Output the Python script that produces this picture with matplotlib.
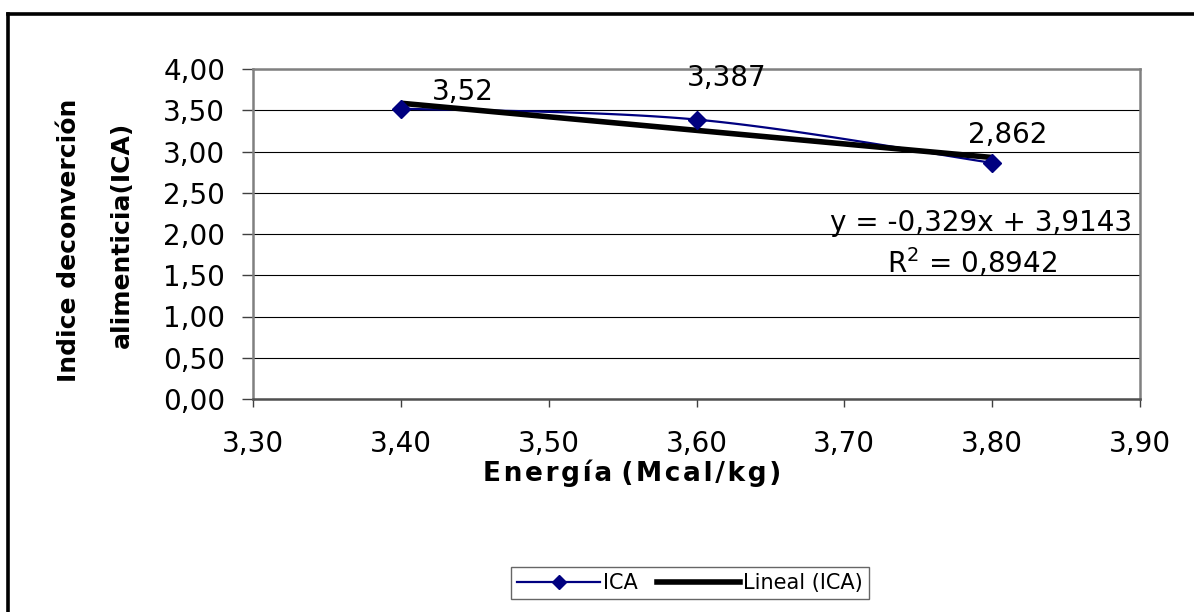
import numpy as np
import matplotlib
matplotlib.use("Agg")
import matplotlib.pyplot as plt
from matplotlib.lines import Line2D
from matplotlib.ticker import FuncFormatter

energia = [3.40, 3.60, 3.80]
ica = [3.52, 3.387, 2.862]
ica_labels = ["3,52", "3,387", "2,862"]
x_ticks = [3.30, 3.40, 3.50, 3.60, 3.70, 3.80, 3.90]
y_ticks = [0.0, 0.5, 1.0, 1.5, 2.0, 2.5, 3.0, 3.5, 4.0]
eq_text = "y = -0,329x + 3,9143"
r2_text = "R$^2$ = 0,8942"

plt.rcParams['font.family'] = ['DejaVu Sans']
plt.rcParams['mathtext.fontset'] = 'dejavusans'

fig = plt.figure(figsize=(11.94, 6.12), dpi=100)
ax = fig.add_axes([253/1194, 1-399/612, (1140-253)/1194, (399-69)/612])

# Excel-style smoothed line (Bezier through points)
def smooth(xs, ys, n=60):
    P = np.column_stack([xs, ys]).astype(float)
    out = []
    m = len(P)
    for i in range(m - 1):
        p0 = P[i - 1] if i > 0 else P[i]
        p1 = P[i]
        p2 = P[i + 1]
        p3 = P[i + 2] if i + 2 < m else P[i + 1]
        c1 = p1 + (p2 - p0) / 6
        c2 = p2 - (p3 - p1) / 6
        t = np.linspace(0, 1, n)[:, None]
        seg = (1-t)**3*p1 + 3*(1-t)**2*t*c1 + 3*(1-t)*t**2*c2 + t**3*p2
        out.append(seg if i == 0 else seg[1:])
    s = np.vstack(out)
    return s[:, 0], s[:, 1]

sx, sy = smooth(energia, ica)
ax.plot(sx, sy, color='#000080', lw=1.6, zorder=3)
ax.plot(energia, ica, linestyle='none', marker='D', ms=9, color='#000080', zorder=4)

# linear trend (Excel computed on index 1..n)
idx = np.arange(1, len(ica) + 1)
slope, intercept = np.polyfit(idx, ica, 1)
trend = slope * idx + intercept
ax.plot(energia, trend, color='black', lw=4.0, zorder=3.5, solid_capstyle='butt')

# data labels
offsets = [(22, 12), (22, 30), (11.5, 20)]
has = ['left', 'center', 'center']
for xv, yv, lab, off, ha in zip(energia, ica, ica_labels, offsets, has):
    ax.annotate(lab, (xv, yv), xytext=off, textcoords='offset points',
                ha=ha, va='center', fontsize=20, zorder=5)

ax.text(0.991, 0.534, eq_text, transform=ax.transAxes, ha='right', va='center', fontsize=20)
ax.text(0.81, 0.413, r2_text, transform=ax.transAxes, ha='center', va='center', fontsize=20)

ax.set_xlim(3.30, 3.90)
ax.set_ylim(0, 4.0)
ax.set_xticks(x_ticks)
ax.set_yticks(y_ticks)
fmt = FuncFormatter(lambda v, p: f"{v:.2f}".replace('.', ','))
ax.xaxis.set_major_formatter(fmt)
ax.yaxis.set_major_formatter(fmt)
ax.tick_params(axis='y', direction='out', length=8, width=1, labelsize=20, pad=12, color='#404040')
ax.tick_params(axis='x', direction='out', length=6, width=1, labelsize=20, pad=16, color='#404040')
ax.yaxis.grid(True, color='black', lw=0.8)
ax.set_axisbelow(True)
for sp in ax.spines.values():
    sp.set_color('#808080')
    sp.set_linewidth(1.8)
ax.spines['bottom'].set_color('#505050')

xlabel = "Energía (Mcal/kg)"
spaced = "\u200a".join(xlabel).replace("\u200a \u200a", " ")
fig.text(632/1194, 1-473/612, spaced,
         ha='center', va='center', fontsize=19, fontweight='bold')
fig.text(69/1194, 1-240/612, "Indice deconverción", rotation=90, ha='center', va='center',
         fontsize=18, fontweight='bold')
fig.text(122/1194, 1-235/612, "alimenticia(ICA)", rotation=90, ha='center', va='center',
         fontsize=18, fontweight='bold')

handles = [Line2D([], [], color='#000080', lw=1.6, marker='D', ms=7),
           Line2D([], [], color='black', lw=4.0)]
leg = fig.legend(handles, ["ICA", "Lineal (ICA)"], loc='center', bbox_to_anchor=(690/1194, 1-583/612),
                 ncol=2, fontsize=15, frameon=True, fancybox=False, handlelength=4.0,
                 handletextpad=0.15, columnspacing=0.9, borderpad=0.3, borderaxespad=0)
leg.get_frame().set_edgecolor('#404040')
leg.get_frame().set_linewidth(1)

# outer chart frame (cropped: top and left only)
fig.add_artist(Line2D([8/1194, 1], [1-14/612, 1-14/612], color='black', lw=2.6, transform=fig.transFigure))
fig.add_artist(Line2D([8/1194, 8/1194], [0, 1-14/612], color='black', lw=2.6, transform=fig.transFigure))

fig.savefig("out.png", dpi=100, facecolor='white')
